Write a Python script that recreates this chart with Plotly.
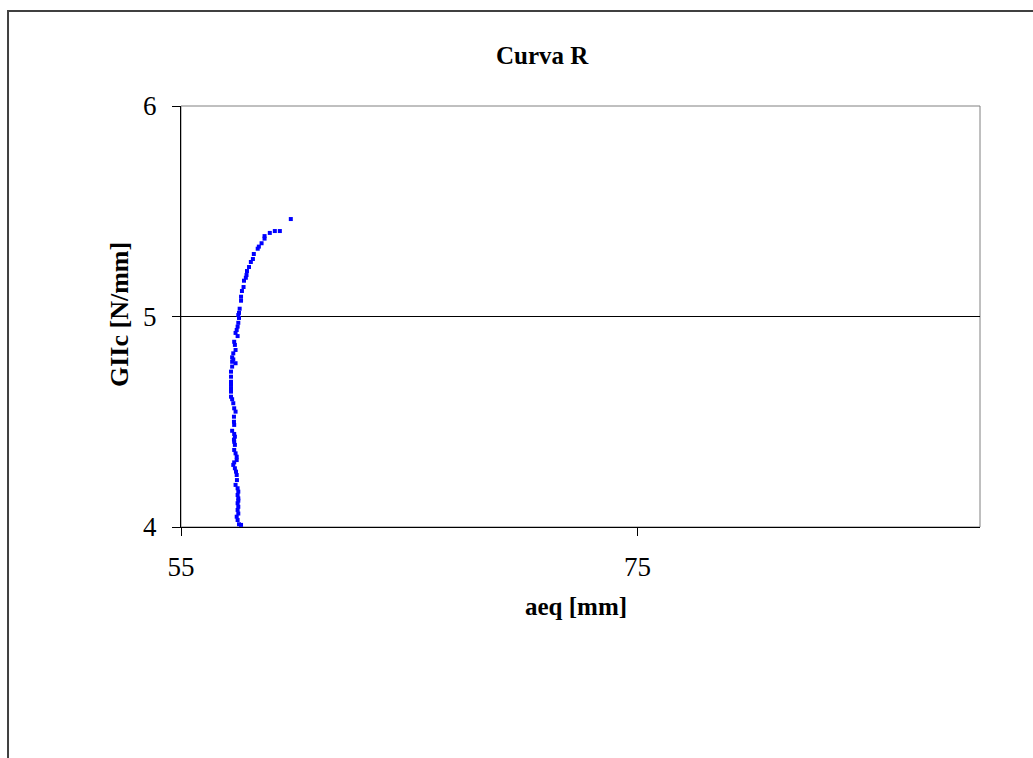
import plotly.graph_objects as go

# Curva R: equivalent crack length vs. mode II fracture energy
aeq_mm = [
    57.63, 57.54, 57.48, 57.44, 57.51, 57.48, 57.51, 57.48, 57.51, 57.51,
    57.48, 57.51, 57.39, 57.48, 57.45, 57.44, 57.41, 57.36, 57.29, 57.33,
    57.44, 57.44, 57.39, 57.33, 57.36, 57.33, 57.36, 57.33, 57.32, 57.24,
    57.33, 57.32, 57.32, 57.39, 57.33, 57.29, 57.24, 57.19, 57.19, 57.19,
    57.19, 57.19, 57.19, 57.19, 57.24, 57.39, 57.24, 57.29, 57.24, 57.29,
    57.39, 57.36, 57.33, 57.48, 57.39, 57.44, 57.48, 57.51, 57.54, 57.51,
    57.54, 57.57, 57.63, 57.63, 57.67, 57.74, 57.76, 57.84, 57.87, 57.89,
    57.98, 58.06, 58.15, 58.19, 58.36, 58.41, 58.53, 58.66, 58.66, 58.89,
    59.11, 59.33, 59.81,
]
giic_n_mm = [
    4.010, 4.013, 4.033, 4.049, 4.064, 4.081, 4.096, 4.113, 4.125, 4.136,
    4.152, 4.168, 4.200, 4.184, 4.223, 4.247, 4.263, 4.279, 4.295, 4.307,
    4.318, 4.334, 4.350, 4.366, 4.390, 4.405, 4.429, 4.442, 4.415, 4.457,
    4.485, 4.500, 4.524, 4.548, 4.564, 4.588, 4.607, 4.619, 4.643, 4.659,
    4.675, 4.690, 4.714, 4.738, 4.762, 4.778, 4.785, 4.796, 4.806, 4.825,
    4.841, 4.865, 4.880, 4.907, 4.922, 4.936, 4.952, 4.970, 4.993, 5.007,
    5.017, 5.037, 5.075, 5.094, 5.121, 5.140, 5.170, 5.184, 5.197, 5.216,
    5.235, 5.259, 5.273, 5.297, 5.322, 5.332, 5.348, 5.382, 5.370, 5.397,
    5.406, 5.406, 5.463,
]

x_ticks = [55, 75]
y_ticks = [4, 5, 6]

SERIF = "Liberation Serif, Times New Roman, serif"

fig = go.Figure()
fig.add_trace(go.Scatter(
    x=aeq_mm, y=giic_n_mm, mode="markers",
    marker=dict(symbol="square", size=4, color="#0000FF", line=dict(width=0)),
    showlegend=False, cliponaxis=False,
))

fig.update_layout(
    width=1033, height=758,
    margin=dict(l=181, r=53, t=106, b=231, pad=0),
    paper_bgcolor="white", plot_bgcolor="white",
    font=dict(family=SERIF, size=25, color="black"),
    xaxis=dict(
        range=[55, 90], tickvals=x_ticks, ticktext=[str(v) for v in x_ticks],
        showgrid=False, zeroline=False, showline=True, linecolor="black",
        linewidth=1, ticks="outside", ticklen=8, tickcolor="black",
        ticklabelstandoff=8, tickfont=dict(family=SERIF, size=27),
    ),
    yaxis=dict(
        range=[4, 6], tickvals=y_ticks, ticktext=[str(v) for v in y_ticks],
        showgrid=True, gridcolor="black", gridwidth=1, zeroline=False,
        showline=True, linecolor="black", linewidth=1, ticks="outside",
        ticklen=8, tickcolor="black", ticklabelstandoff=10,
        tickfont=dict(family=SERIF, size=27),
    ),
    shapes=[
        # plot-area border
        dict(type="rect", xref="paper", yref="paper", x0=0, y0=0, x1=1, y1=1,
             line=dict(color="#808080", width=1), layer="below"),
        # outer chart frame
        dict(type="rect", xref="paper", yref="paper", x0=-0.2165, y0=-0.6,
             x1=1.25, y1=1.2257, line=dict(color="#404040", width=2)),
    ],
    annotations=[
        dict(text="<b>Curva R</b>", xref="paper", yref="paper", x=0.452,
             y=1.121, xanchor="center", yanchor="middle", showarrow=False,
             font=dict(family=SERIF, size=25)),
        dict(text="<b>aeq [mm]</b>", xref="paper", yref="paper", x=0.494,
             y=-0.19, xanchor="center", yanchor="middle", showarrow=False,
             font=dict(family=SERIF, size=25)),
        dict(text="<b>GIIc [N/mm]</b>", xref="paper", yref="paper", x=-0.0763,
             y=0.5036, xanchor="center", yanchor="middle", showarrow=False,
             textangle=-90, font=dict(family=SERIF, size=26)),
    ],
)

fig.write_html("out.html")
